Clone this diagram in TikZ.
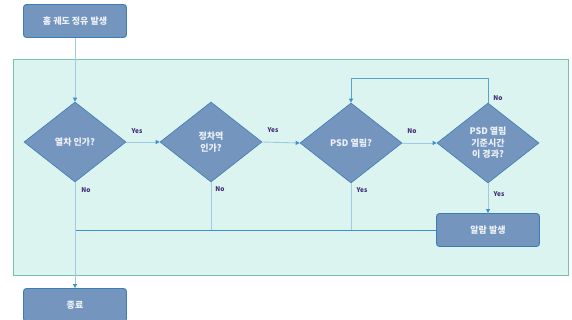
\documentclass[tikz,border=0pt]{standalone}
\usepackage{fontspec}
\setmainfont{Noto Sans CJK KR}
\usetikzlibrary{shapes.geometric,arrows.meta}
\definecolor{nodefill}{HTML}{7395BE}
\definecolor{nodeborder}{HTML}{3C7DB6}
\definecolor{nodetext}{HTML}{EEF2F8}
\definecolor{bgfill}{HTML}{DCF4EF}
\definecolor{bgborder}{HTML}{74C3AD}
\definecolor{linelight}{HTML}{9CCBE3}
\definecolor{linedark}{HTML}{3D90D0}
\definecolor{labelcol}{HTML}{3F2B78}
\tikzset{
  procbox/.style={rectangle, rounded corners=3pt, draw=nodeborder, line width=0.9pt, fill=nodefill,
    minimum width=103pt, minimum height=33pt, inner sep=0pt, text=nodetext,
    font=\fontsize{9}{10}\selectfont\bfseries},
  decbox/.style={diamond, draw=nodeborder, line width=0.6pt, fill=nodefill,
    minimum width=102pt, minimum height=80pt, inner sep=0pt, text=nodetext, align=center,
    font=\fontsize{9}{11.5}\selectfont\bfseries},
  conn/.style={draw=linelight, line width=0.9pt, -{Triangle[length=4pt,width=4pt,color=linedark]}},
  connplain/.style={draw=linelight, line width=0.9pt},
  conndark/.style={draw=linedark, line width=0.9pt},
  lbl/.style={text=labelcol, font=\fontsize{6.5}{7}\selectfont\bfseries, inner sep=0pt}
}
\begin{document}
\begin{tikzpicture}[x=1pt,y=-1pt]
\useasboundingbox (0,0) rectangle (572,320);
\fill[white] (0,0) rectangle (572,320);
\draw[fill=bgfill, draw=bgborder, line width=0.8pt] (13,59) rectangle (568,275);

\node[procbox] (start) at (75,21) {홈 궤도 정유 발생};
\node[decbox] (d1) at (75,142) {열차 인가?};
\node[decbox] (d2) at (211,142) {정차역\\인가?};
\node[decbox] (d3) at (351,143) {PSD 열림?};
\node[decbox] (d4) at (488,143) {PSD 열림\\기준시간\\이 경과?};
\node[procbox] (alarm) at (488,230) {알람 발생};
\node[procbox] (end) at (75,305) {종료};

\coordinate (loopR) at (488,78);
\coordinate (loopL) at (351,78);
\coordinate (j1) at (75,230);
\coordinate (j2) at (211,230);
\coordinate (j3) at (351,230);

\draw[conn] (start.south) -- (d1.north);
\draw[conn] (d1.east) -- (d2.west);
\draw[conn] (d2.east) -- (d3.west);
\draw[conn] (d3.east) -- (d4.west);
\draw[conn, draw=linedark!70!linelight] (d4.north) -- (loopR) -- (loopL) -- (d3.north);
\draw[conn] (d4.south) -- (alarm.north);
\draw[connplain] (d2.south) -- (j2);
\draw[connplain] (d3.south) -- (j3);
\draw[conndark] (alarm.west) -- (j1);
\draw[conn] (d1.south) -- (end.north);

\node[lbl] at (137,131) {Yes};
\node[lbl] at (273,130) {Yes};
\node[lbl] at (412,131) {No};
\node[lbl] at (498,98) {No};
\node[lbl] at (86,190) {No};
\node[lbl] at (220,189) {No};
\node[lbl] at (362,190) {Yes};
\node[lbl] at (499,194) {Yes};
\end{tikzpicture}
\end{document}
